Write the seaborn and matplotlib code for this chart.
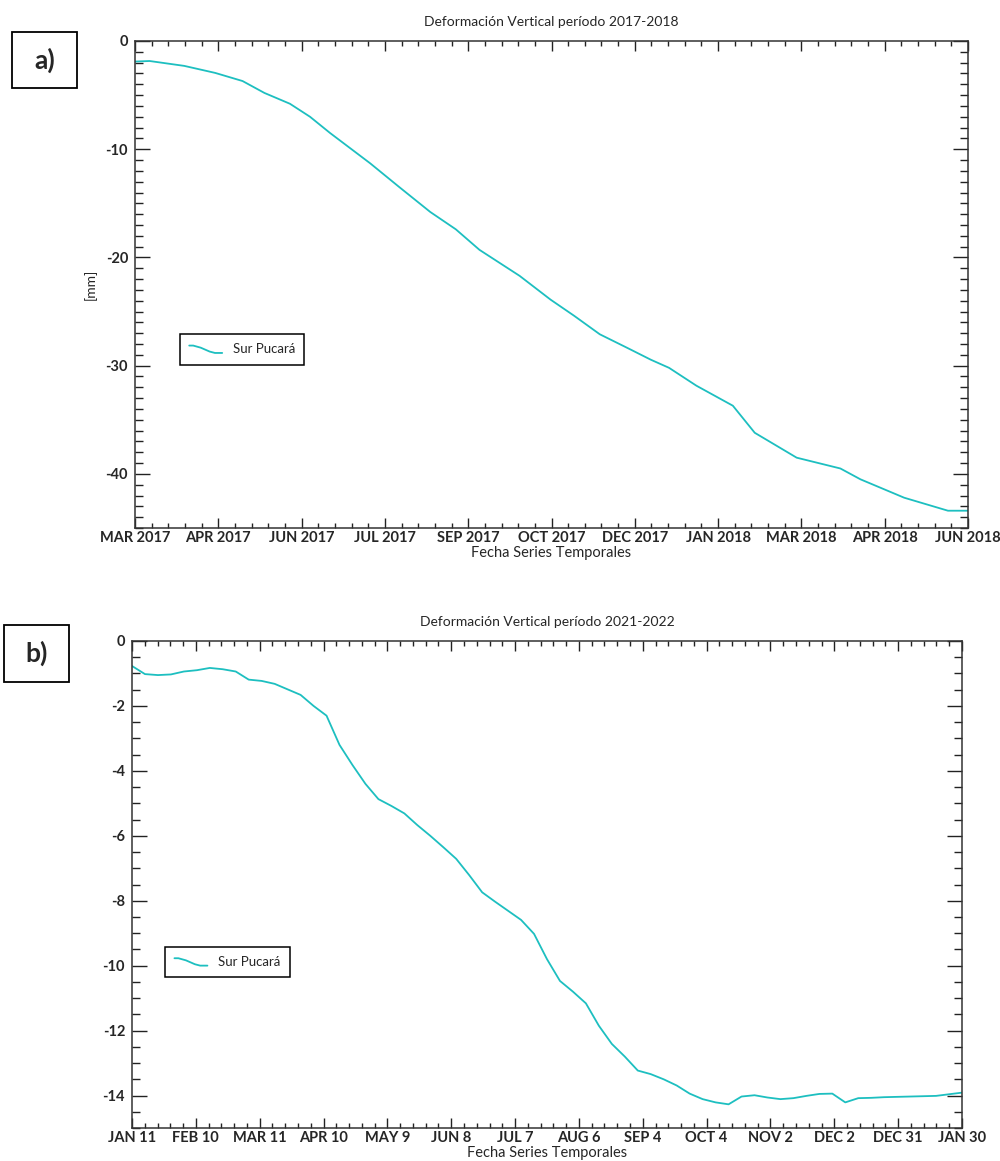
import numpy as np
import matplotlib
matplotlib.use("Agg")
import matplotlib.pyplot as plt
import seaborn as sns
from matplotlib.lines import Line2D
from matplotlib.patches import Rectangle
from matplotlib.legend_handler import HandlerBase
from matplotlib.ticker import AutoMinorLocator, MultipleLocator

# --- data: panel a) 2017-2018, days since first acquisition ---
days_a = [0, 8, 27, 44, 59, 71, 85, 96, 107, 129, 145, 162, 176, 189, 211, 228, 241,
          255, 270, 283, 293, 308, 328, 340, 363, 387, 398, 422, 446, 457]
defo_a = [-1.9, -1.85, -2.3, -2.95, -3.7, -4.8, -5.8, -7.0, -8.5, -11.3, -13.5, -15.8,
          -17.4, -19.3, -21.7, -23.9, -25.4, -27.1, -28.35, -29.45, -30.2, -31.85,
          -33.7, -36.2, -38.5, -39.5, -40.5, -42.2, -43.4, -43.4]
ticks_a = ["MAR 2017", "APR 2017", "JUN 2017", "JUL 2017", "SEP 2017", "OCT 2017",
           "DEC 2017", "JAN 2018", "MAR 2018", "APR 2018", "JUN 2018"]

# --- data: panel b) 2021-2022 ---
days_b = [0, 6, 12, 18, 24, 30, 36, 42, 48, 54, 60, 66, 72, 78, 84, 90, 96, 102, 108,
          114, 120, 126, 132, 138, 144, 150, 156, 162, 168, 174, 180, 186, 192, 198,
          204, 210, 216, 222, 228, 234, 240, 246, 252, 258, 264, 270, 276, 282, 288,
          294, 300, 306, 312, 318, 324, 330, 336, 342, 348, 354, 360, 366, 372, 378, 384]
defo_b = [-0.77, -1.02, -1.05, -1.03, -0.94, -0.90, -0.83, -0.87, -0.94, -1.19, -1.23,
          -1.32, -1.49, -1.66, -2.0, -2.30, -3.20, -3.82, -4.40, -4.87, -5.08, -5.31,
          -5.67, -6.0, -6.35, -6.71, -7.21, -7.74, -8.03, -8.31, -8.59, -9.02, -9.80,
          -10.47, -10.80, -11.16, -11.85, -12.41, -12.80, -13.23, -13.34, -13.50,
          -13.69, -13.94, -14.11, -14.21, -14.27, -14.03, -13.99, -14.06, -14.11,
          -14.08, -14.01, -13.95, -13.94, -14.21, -14.08, -14.07, -14.05, -14.04,
          -14.03, -14.02, -14.01, -13.96, -13.91]
ticks_b = ["JAN 11", "FEB 10", "MAR 11", "APR 10", "MAY 9", "JUN 8", "JUL 7", "AUG 6",
           "SEP 4", "OCT 4", "NOV 2", "DEC 2", "DEC 31", "JAN 30"]

line_color = "#1dbfc0"
sns.set_style("ticks")
plt.rcParams["font.family"] = ["Lato", "DejaVu Sans"]
plt.rcParams["axes.unicode_minus"] = False


class WiggleHandler(HandlerBase):
    # legend sample drawn as a small s-shaped stroke like the original
    def create_artists(self, legend, orig_handle, xdescent, ydescent, width, height,
                       fontsize, trans):
        fx = np.array([0.0, 0.12, 0.35, 0.62, 0.78, 1.0])
        fy = np.array([0.85, 0.85, 0.62, 0.2, 0.05, 0.05])
        line = Line2D(fx * width - xdescent, fy * height - ydescent,
                      color=orig_handle.get_color(), lw=orig_handle.get_linewidth())
        line.set_transform(trans)
        return [line]


fig = plt.figure(figsize=(10, 11.61), dpi=100)
ax1 = fig.add_axes([0.135, 0.5452, 0.833, 0.4195])
ax2 = fig.add_axes([0.132, 0.0284, 0.830, 0.4195])

panels = [
    (ax1, days_a, defo_a, ticks_a, 457, (-45, 0), 10, 1, "Deformación Vertical período 2017-2018",
     (0.054, 0.398)),
    (ax2, days_b, defo_b, ticks_b, 384, (-15, 0), 2, 0.5, "Deformación Vertical período 2021-2022",
     (0.040, 0.372)),
]

for ax, x, y, labels, xmax, ylim, ymaj, ymin, title, legpos in panels:
    sns.lineplot(x=x, y=y, ax=ax, color=line_color, linewidth=1.3, label="Sur Pucará")
    ax.set_xlim(0, xmax)
    ax.set_ylim(*ylim)
    ax.set_xticks(np.linspace(0, xmax, len(labels)))
    ax.set_xticklabels(labels)
    ax.xaxis.set_minor_locator(AutoMinorLocator(5))
    ax.yaxis.set_major_locator(MultipleLocator(ymaj))
    ax.yaxis.set_minor_locator(MultipleLocator(ymin))
    ax.tick_params(which="both", direction="in", top=True, right=True, color="#222222",
                   width=1.0)
    ax.tick_params(axis="x", which="major", length=7.5, pad=2.5, labelsize=10.5)
    ax.tick_params(axis="x", which="minor", length=3.8)
    ax.tick_params(axis="y", which="major", length=11, pad=5, labelsize=10.5)
    ax.tick_params(axis="y", which="minor", length=5.8)
    for lab in ax.get_xticklabels() + ax.get_yticklabels():
        lab.set_fontweight("bold")
    for sp in ax.spines.values():
        sp.set_visible(True)
        sp.set_linewidth(1.1)
        sp.set_color("#333333")
    ax.set_title(title, fontsize=10, pad=11)
    ax.set_xlabel("Fecha Series Temporales", fontsize=10.5, labelpad=0.5)
    leg = ax.legend(loc="upper left", bbox_to_anchor=legpos, borderaxespad=0,
                    fontsize=9.5, frameon=True, fancybox=False, framealpha=1,
                    edgecolor="black", handlelength=2.5, handletextpad=0.8,
                    borderpad=0.7, handler_map={Line2D: WiggleHandler()})
    leg.get_frame().set_linewidth(1.1)

ax1.set_ylabel("[mm]", fontsize=10, labelpad=6)
ax2.set_ylabel("")

# panel letters in boxes
for (x0, y0, w, h, txt) in [(12, 32, 65, 56, "a)"), (4, 625, 65, 57, "b)")]:
    fig.patches.append(Rectangle((x0 / 1000, 1 - (y0 + h) / 1161), w / 1000, h / 1161,
                                 transform=fig.transFigure, fill=False,
                                 edgecolor="black", linewidth=1.3))
    fig.text((x0 + w / 2) / 1000, 1 - (y0 + h / 2) / 1161, txt, ha="center",
             va="center", fontsize=19, fontweight="bold")

fig.savefig("out.png", dpi=100)
